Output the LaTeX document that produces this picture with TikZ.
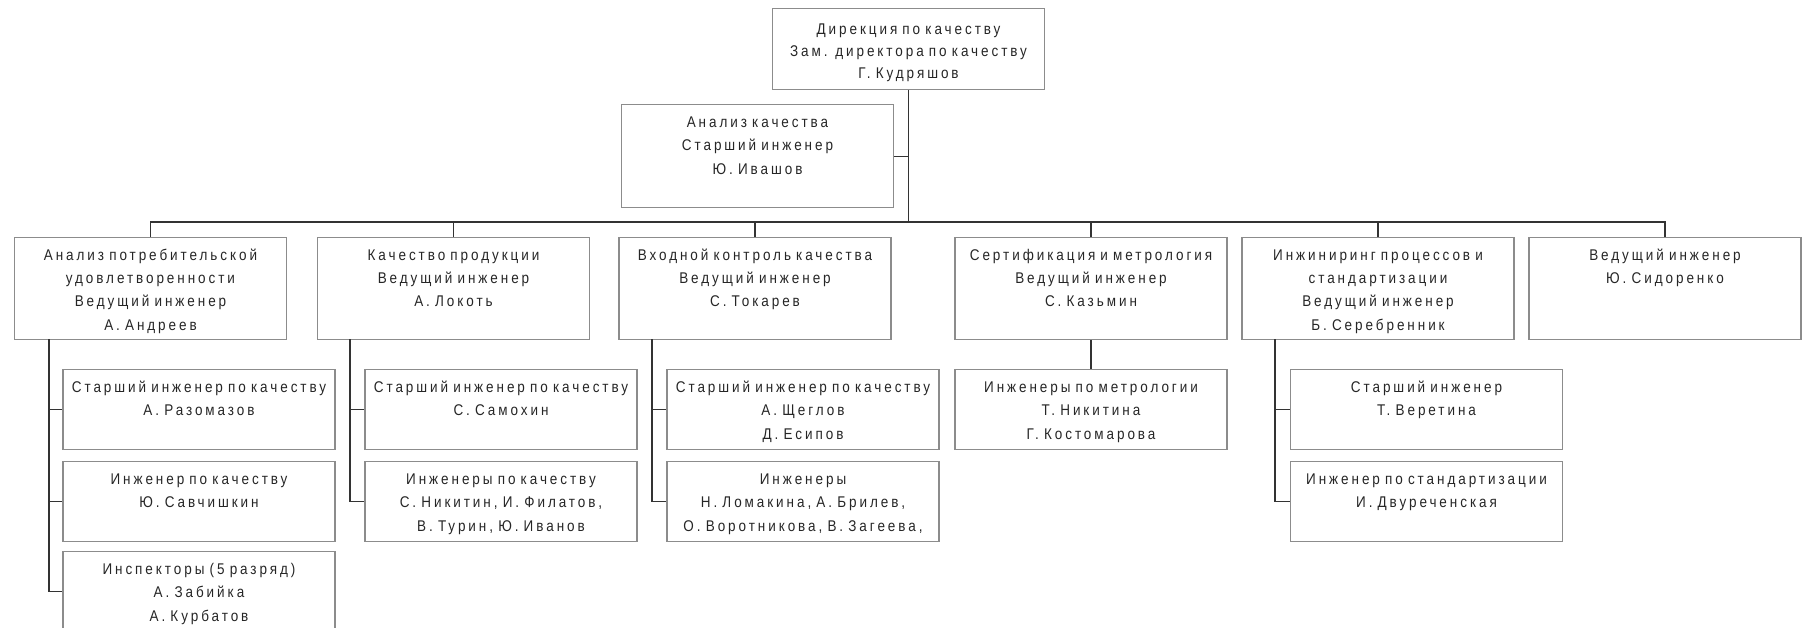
\documentclass[tikz,border=0pt]{standalone}
\usepackage{fontspec}
\setmainfont{Liberation Sans}[FakeStretch=0.87,LetterSpace=19]
\definecolor{boxgray}{HTML}{8C8C8C}
\definecolor{linegray}{HTML}{333333}
\definecolor{textgray}{HTML}{262626}
\begin{document}
\begin{tikzpicture}[x=1pt,y=-1pt,
    box/.style={draw=boxgray, line width=1.2pt, anchor=north, inner xsep=0pt, inner ysep=0pt,
      text width=272pt, align=center, text height=23pt, text depth=79.3pt,
      font=\fontsize{15.5}{23.3}\selectfont, text=textgray},
    subbox/.style={box, text depth=57pt},
    link/.style={draw=linegray, line width=1.1pt}]
    \useasboundingbox (0,0) rectangle (1804,627);
    % head and analysis
    \node [box, text height=26pt, text depth=55pt, font=\fontsize{15.5}{22}\selectfont] (0) at (908.5,8)
        {Дирекция по качеству\\Зам. директора по качеству\\Г. Кудряшов};
    \node [box, text depth=80pt] (1) at (757.5,104) {Анализ качества\\Старший инженер\\Ю. Ивашов};
    % departments
    \node [box] (2) at (150.5,236.7) {Анализ потребительской\\удовлетворенности\\Ведущий инженер\\А. Андреев};
    \node [box] (3) at (453.5,236.7) {Качество продукции\\Ведущий инженер\\А. Локоть};
    \node [box] (4) at (755,236.7) {Входной контроль качества\\Ведущий инженер\\С. Токарев};
    \node [box] (5) at (1091,236.7) {Сертификация и метрология\\Ведущий инженер\\С. Казьмин};
    \node [box] (6) at (1378,236.7) {Инжиниринг процессов и\\стандартизации\\Ведущий инженер\\Б. Серебренник};
    \node [box] (7) at (1665,236.7) {Ведущий инженер\\Ю. Сидоренко};
    % staff
    \node [subbox] (8) at (199,369) {Старший инженер по качеству\\А. Разомазов};
    \node [subbox] (9) at (199,461) {Инженер по качеству\\Ю. Савчишкин};
    \node [subbox] (10) at (199,551) {Инспекторы (5 разряд)\\А. Забийка\\А. Курбатов};
    \node [subbox] (11) at (501,369) {Старший инженер по качеству\\С. Самохин};
    \node [subbox] (12) at (501,461) {Инженеры по качеству\\С. Никитин, И. Филатов,\\В. Турин, Ю. Иванов};
    \node [subbox] (13) at (803,369) {Старший инженер по качеству\\А. Щеглов\\Д. Есипов};
    \node [subbox] (14) at (803,461) {Инженеры\\Н. Ломакина, А. Брилев,\\О. Воротникова, В. Загеева,};
    \node [subbox] (15) at (1091,369) {Инженеры по метрологии\\Т. Никитина\\Г. Костомарова};
    \node [subbox] (16) at (1426.5,369) {Старший инженер\\Т. Веретина};
    \node [subbox] (17) at (1426.5,461) {Инженер по стандартизации\\И. Двуреченская};
    \coordinate (20) at (908,222);
    \coordinate (21) at (49,339);
    \coordinate (22) at (350,339);
    \coordinate (23) at (652,339);
    \coordinate (24) at (1275,339);
    \draw [link] (0.south) to (0.south |- 20);
    \draw [link] (1.east) to (1.east -| 0.south);
    \draw [link] (2.north) |- (20) -| (7.north);
    \draw [link] (3.north) to (3.north |- 20);
    \draw [link] (4.north) to (4.north |- 20);
    \draw [link] (5.north) to (5.north |- 20);
    \draw [link] (6.north) to (6.north |- 20);
    \draw [link] (21) |- (8.west);
    \draw [link] (21) |- (9.west);
    \draw [link] (21) |- (10.west);
    \draw [link] (22) |- (11.west);
    \draw [link] (22) |- (12.west);
    \draw [link] (23) |- (13.west);
    \draw [link] (23) |- (14.west);
    \draw [link] (5.south) to (15.north);
    \draw [link] (24) |- (16.west);
    \draw [link] (24) |- (17.west);
\end{tikzpicture}
\end{document}
